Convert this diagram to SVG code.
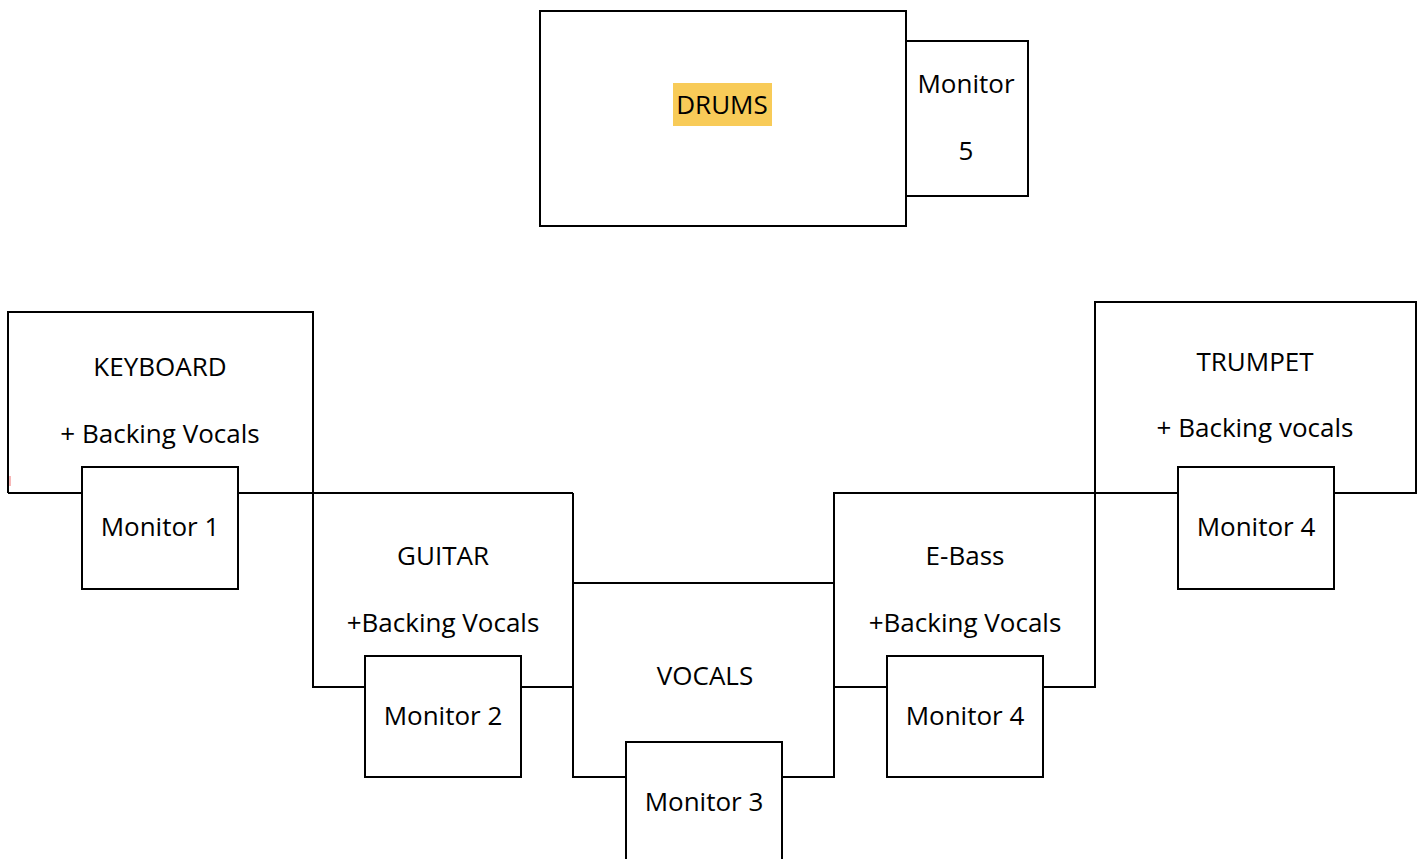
<svg xmlns="http://www.w3.org/2000/svg" width="1422" height="859" viewBox="0 0 1422 859">
<style>
.b{fill:#fff;stroke:#000;stroke-width:2}
.l{fill:none;stroke:#000;stroke-width:2}
text{font-family:"Open Sans","Noto Sans",sans-serif;font-size:26px;fill:#000;text-anchor:middle}
</style>
<rect width="1422" height="859" fill="#fff"/>
<g id="drums">
<rect class="b" x="540" y="11" width="366" height="215"/>
<rect x="673" y="83" width="99" height="43" fill="#F8CB58"/>
<text x="722" y="114">DRUMS</text>
</g>
<g id="monitor5">
<rect class="b" x="906" y="41" width="122" height="155"/>
<text x="966" y="93">Monitor</text>
<text x="966" y="160">5</text>
</g>
<g id="connectors">
<polyline class="l" points="8,493 8,312 313,312 313,687 365,687"/>
<line class="l" x1="8" y1="493" x2="82" y2="493"/>
<line class="l" x1="238" y1="493" x2="573" y2="493"/>
<polyline class="l" points="521,687 573,687"/>
<polyline class="l" points="573,493 573,777 626,777"/>
<polyline class="l" points="573,583 834,583"/>
<polyline class="l" points="782,777 834,777 834,493 1178,493"/>
<polyline class="l" points="834,687 887,687"/>
<polyline class="l" points="1043,687 1095,687 1095,302 1416,302 1416,493 1334,493"/>
<line x1="10" y1="476" x2="10" y2="486" stroke="#f07070" stroke-width="1"/>
</g>
<g id="keyboard">
<text x="160" y="376">KEYBOARD</text>
<text x="160" y="443">+ Backing Vocals</text>
</g>
<g id="monitor1">
<rect class="b" x="82" y="467" width="156" height="122"/>
<text x="160" y="536">Monitor 1</text>
</g>
<g id="guitar">
<text x="443" y="565">GUITAR</text>
<text x="443" y="632">+Backing Vocals</text>
</g>
<g id="monitor2">
<rect class="b" x="365" y="656" width="156" height="121"/>
<text x="443" y="725">Monitor 2</text>
</g>
<g id="vocals">
<text x="705" y="685">VOCALS</text>
</g>
<g id="monitor3">
<rect class="b" x="626" y="742" width="156" height="130"/>
<text x="704" y="811">Monitor 3</text>
</g>
<g id="ebass">
<text x="965" y="565">E-Bass</text>
<text x="965" y="632">+Backing Vocals</text>
</g>
<g id="monitor4b">
<rect class="b" x="887" y="656" width="156" height="121"/>
<text x="965" y="725">Monitor 4</text>
</g>
<g id="trumpet">
<text x="1255" y="371">TRUMPET</text>
<text x="1255" y="437">+ Backing vocals</text>
</g>
<g id="monitor4a">
<rect class="b" x="1178" y="467" width="156" height="122"/>
<text x="1256" y="536">Monitor 4</text>
</g>
</svg>
